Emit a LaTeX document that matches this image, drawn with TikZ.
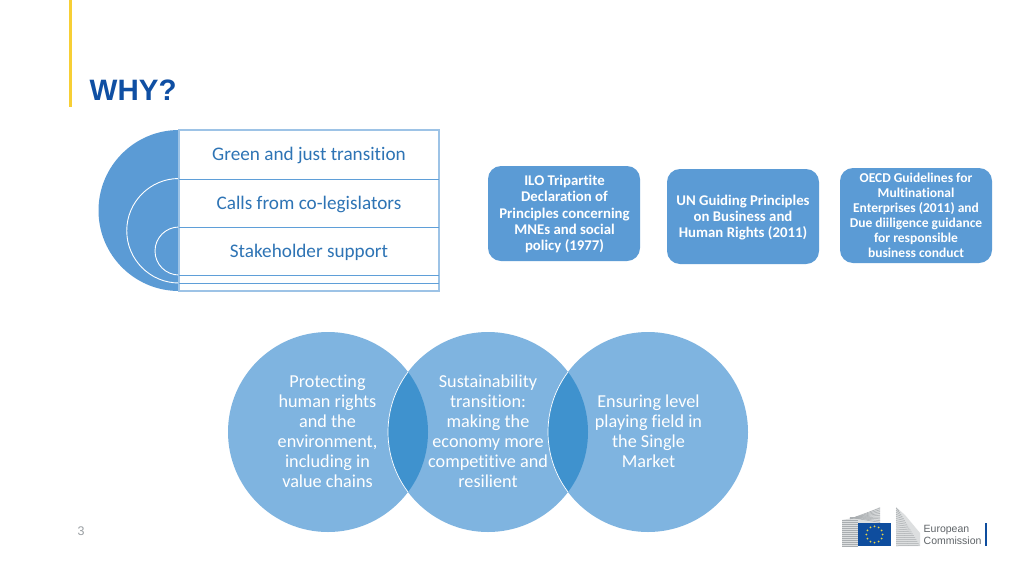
\documentclass[tikz,border=0pt]{standalone}
\usepackage{fontspec}
\setmainfont{Carlito}[RawFeature={-liga}]
\newfontfamily\arialf{Liberation Sans}
\usetikzlibrary{calc}
\definecolor{euBlue}{HTML}{5B9BD5}
\definecolor{circFill}{HTML}{7FB4E0}
\definecolor{lapFill}{HTML}{3F92CE}
\definecolor{listText}{HTML}{2E74B5}
\definecolor{listEdge}{HTML}{9DC3E6}
\definecolor{rowEdge}{HTML}{5F9FD8}
\definecolor{titleBlue}{HTML}{0F4FA3}
\definecolor{railYellow}{HTML}{F7CF35}
\definecolor{logoGrey}{HTML}{A9ADB0}
\definecolor{logoWash}{HTML}{DDDFE0}
\definecolor{pageGrey}{HTML}{9A9FA3}
\definecolor{logoText}{HTML}{5F6468}
\definecolor{flagBlue}{HTML}{0E4D9E}
\definecolor{flagStar}{HTML}{E8D44A}
\tikzset{
  x=1pt,y=-1pt,
  listlabel/.style={text=listText,font=\fontsize{19.2}{21}\selectfont,inner sep=0pt,anchor=center},
  pillbox/.style={fill=euBlue,draw=none,rounded corners=13pt,minimum width=152pt,minimum height=95pt,inner sep=0pt},
  pilllabel/.style={text=white,align=center,inner sep=0pt,anchor=center},
  ilolabel/.style={pilllabel,font=\fontsize{14.8}{16.4}\selectfont\bfseries},
  oecdlabel/.style={pilllabel,font=\fontsize{13.5}{15}\selectfont\bfseries},
  disc/.style={circle,fill=circFill,draw=none,minimum size=200pt,inner sep=0pt},
  disclabel/.style={text=white,align=center,inner sep=0pt,anchor=center,font=\fontsize{18.2}{20}\selectfont},
  rowline/.style={draw=rowEdge,line width=0.9pt},
  outerline/.style={draw=listEdge,line width=1.1pt},
  hatch/.style={draw=logoGrey,line width=0.5pt},
}
\begin{document}
\begin{tikzpicture}
\useasboundingbox (0,0) rectangle (1024,576);
\fill[white] (0,0) rectangle (1024,576);
% title
\fill[railYellow] (69,0) rectangle (72,107);
\node[anchor=west,inner sep=0pt,text=titleBlue,font=\fontsize{29.5}{30}\selectfont\arialf\bfseries] (title) at (89.5,90) {WHY?};
% nested semicircles
\fill[euBlue] (179,130) arc[start angle=-90,end angle=-270,radius=80.5] -- cycle;
\draw[white,line width=0.9pt] (179,178.5) arc[start angle=-90,end angle=-270,radius=52.25];
\draw[white,line width=0.9pt] (179,227) arc[start angle=-90,end angle=-270,radius=24];
\path[outerline] (179,130) rectangle (439,291);
\foreach \yy in {179,227,275,283}{\draw[rowline] (179,\yy) -- (439,\yy);}
\node[listlabel] (n1) at (309,155) {Green and just transition};
\node[listlabel] (n2) at (309,204) {Calls from co-legislators};
\node[listlabel] (n3) at (309,252) {Stakeholder support};
% rounded boxes
\node[pillbox] (ilo) at (564,213.5) {};
\node[pillbox] (un) at (743,216.5) {};
\node[pillbox] (oecd) at (916,215.5) {};
\node[ilolabel] (ilot) at (564.5,214) {ILO Tripartite\\Declaration of\\Principles concerning\\MNEs and social\\policy (1977)};
\node[ilolabel] (unt) at (743,217.5) {UN Guiding Principles\\on Business and\\Human Rights (2011)};
\node[oecdlabel] (oecdt) at (916,215) {OECD Guidelines for\\Multinational\\Enterprises (2011) and\\Due diiligence guidance\\for responsible\\business conduct};
% venn
\node[disc] (c1) at (328,432) {};
\node[disc] (c2) at (488,432) {};
\node[disc] (c3) at (648,432) {};
\begin{scope}
\clip (328,432) circle[radius=100];
\fill[lapFill] (488,432) circle[radius=100];
\end{scope}
\begin{scope}
\clip (488,432) circle[radius=100];
\fill[lapFill] (648,432) circle[radius=100];
\end{scope}
\begin{scope}
\clip (328,432) circle[radius=100];
\draw[white,line width=0.7pt] (488,432) circle[radius=100];
\end{scope}
\begin{scope}
\clip (488,432) circle[radius=100];
\draw[white,line width=0.7pt] (648,432) circle[radius=100];
\end{scope}
\node[disclabel] (t1) at (327.5,431.5) {Protecting\\human rights\\and the\\environment,\\including in\\value chains};
\node[disclabel] (t2) at (488,431.5) {Sustainability\\transition:\\making the\\economy more\\competitive and\\resilient};
\node[disclabel] (t3) at (648.5,431.5) {Ensuring level\\playing field in\\the Single\\Market};
% page number
\node[text=pageGrey,font=\fontsize{12.5}{14}\selectfont\arialf,inner sep=0pt] (pg) at (81,531) {3};
% logo buildings
\fill[logoWash] (842,520) -- (858,517) -- (880,507) -- (880,523) -- (858,523) -- (858,546) -- (842,546) -- cycle;
\fill[logoWash] (896,507) -- (905,515) -- (920,533) -- (920,546) -- (896,546) -- cycle;
\foreach \i in {0,...,13}{
  \draw[hatch] (842,{520+\i*2}) -- (858,{520+\i*2});
}
\foreach \i in {0,...,8}{
  \draw[hatch] (850,{519-\i*0.2}) -- (880,{508+\i*1.8});
}
\foreach \i in {0,...,18}{
  \draw[hatch] (896,{508+\i*2.1}) -- ({899+\i*1.15},{511+\i*1.9});
}
\fill[flagBlue] (858,523) rectangle (891,546);
\foreach \a in {0,30,...,330}{
  \fill[flagStar] ($(874.5,534.5)+(\a:8.2)$) circle[radius=1];
}
\node[anchor=west,inner sep=0pt,text=logoText,align=left,font=\fontsize{10.5}{12.2}\selectfont\arialf] (logo) at (923.5,535) {European\\Commission};
\fill[flagBlue] (985,523) rectangle (987,546);
\end{tikzpicture}
\end{document}
